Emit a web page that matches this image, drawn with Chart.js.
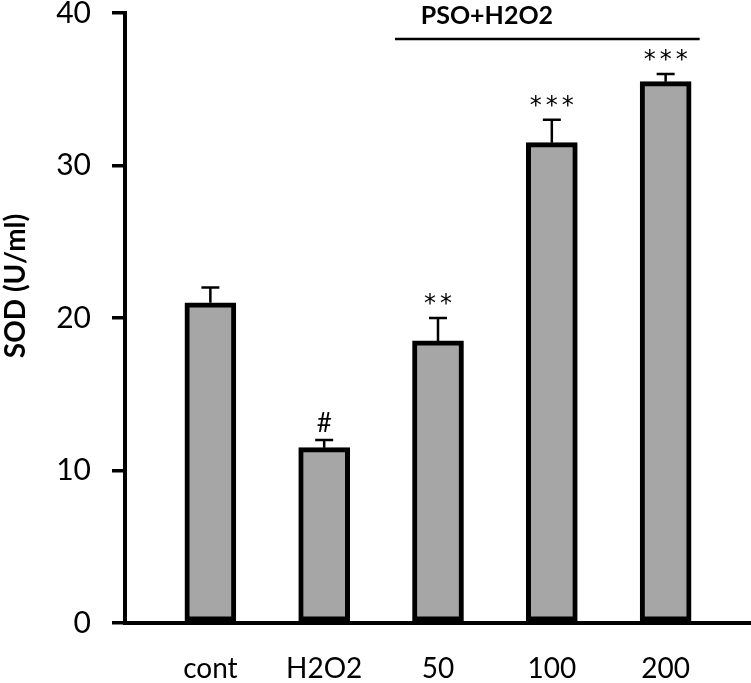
<!DOCTYPE html>
<html>
<head>
<meta charset="utf-8">
<script src="https://cdn.jsdelivr.net/npm/chart.js@4/dist/chart.umd.min.js"></script>
<style>
  html, body { margin: 0; padding: 0; background: #fff; }
  #wrap { width: 751px; height: 683px; }
</style>
</head>
<body>
<div id="wrap"><canvas id="sodChart"></canvas></div>
<script>
// values
const categories = ['cont', 'H2O2', '50', '100', '200'];
const sodValues = [21, 11.5, 18.5, 31.5, 35.5];
const sodErrors = [1, 0.5, 1.5, 1.5, 0.5];
const sigMarks = ['', '#', '**', '***', '***'];
const yTicks = [0, 10, 20, 30, 40];
const groupLabel = 'PSO+H2O2';
const yTitle = 'SOD (U/ml)';

const FONT = 'Lato, "Open Sans", sans-serif';

// error bars, significance marks, bracket and the y title
const annotate = {
    id: 'annotate',
    afterDatasetsDraw(chart) {
        const ctx = chart.ctx;
        const meta = chart.getDatasetMeta(0);
        const y = chart.scales.y;
        const x = chart.scales.x;
        ctx.save();
        ctx.strokeStyle = '#000';
        ctx.fillStyle = '#000';
        meta.data.forEach((bar, i) => {
            const top = y.getPixelForValue(sodValues[i]);
            const errTop = y.getPixelForValue(sodValues[i] + sodErrors[i]);
            ctx.lineWidth = 2.5;
            ctx.beginPath();
            ctx.moveTo(bar.x, top);
            ctx.lineTo(bar.x, errTop);
            ctx.moveTo(bar.x - 9, errTop);
            ctx.lineTo(bar.x + 9, errTop);
            ctx.stroke();
            const m = sigMarks[i];
            if (!m) return;
            ctx.textAlign = 'center';
            if (m === '#') {
                ctx.letterSpacing = '0px';
                ctx.font = '26px ' + FONT;
                ctx.textBaseline = 'middle';
                ctx.fillText(m, bar.x, errTop - 16);
            } else {
                ctx.font = '24px "DejaVu Sans", sans-serif';
                ctx.letterSpacing = '4px';
                ctx.textBaseline = 'alphabetic';
                ctx.fillText(m, bar.x + 2, errTop - 20 + 13);
            }
        });
        ctx.letterSpacing = '0px';

        // bracket over the PSO groups
        const x0 = x.getPixelForValue(2) - 43;
        const x1 = x.getPixelForValue(4) + 34;
        const yl = y.getPixelForValue(38.3);
        ctx.lineWidth = 2.5;
        ctx.beginPath();
        ctx.moveTo(x0, yl);
        ctx.lineTo(x1, yl);
        ctx.stroke();
        ctx.font = 'bold 25px ' + FONT;
        ctx.textAlign = 'center';
        ctx.textBaseline = 'middle';
        ctx.fillText(groupLabel, x.getPixelForValue(2.5) - 8, y.getPixelForValue(39.8));

        // y axis title, sits a bit above the middle in the original
        ctx.translate(16, y.getPixelForValue(22.1));
        ctx.rotate(-Math.PI / 2);
        ctx.font = 'bold 28px ' + FONT;
        ctx.fillText(yTitle, 0, 0);
        ctx.restore();
    }
};

const ctx = document.getElementById('sodChart').getContext('2d');
new Chart(ctx, {
    type: 'bar',
    data: {
        datasets: [{
            data: sodValues.map((v, i) => ({ x: i, y: v })),
            backgroundColor: '#a6a6a6',
            borderColor: '#000',
            borderWidth: 5,
            borderSkipped: false,
            barThickness: 51
        }]
    },
    options: {
        responsive: true,
        maintainAspectRatio: false,
        animation: false,
        layout: { padding: { top: 13, right: 0, left: 0, bottom: 0 } },
        plugins: {
            legend: { display: false },
            tooltip: { enabled: false }
        },
        scales: {
            x: {
                type: 'linear',
                offset: false,
                min: -0.75,
                max: 4.75,
                afterBuildTicks: axis => { axis.ticks = categories.map((c, i) => ({ value: i })); },
                afterFit: scale => {
                    scale.height = 60;
                    scale.paddingLeft = 0;
                    scale.paddingRight = 0;
                },
                grid: { display: false },
                border: { display: true, color: '#000', width: 4 },
                ticks: {
                    autoSkip: false,
                    maxRotation: 0,
                    padding: 21,
                    color: '#000',
                    font: { family: FONT, size: 28 },
                    callback: v => categories[v]
                }
            },
            y: {
                min: 0,
                max: 40,
                afterBuildTicks: axis => { axis.ticks = yTicks.map(v => ({ value: v })); },
                afterFit: scale => {
                    scale.width = 125;
                    scale.paddingTop = 0;
                    scale.paddingBottom = 0;
                },
                grid: {
                    drawOnChartArea: false,
                    drawTicks: true,
                    tickLength: 13,
                    lineWidth: 3.5,
                    color: '#000'
                },
                border: { display: true, color: '#000', width: 4 },
                ticks: {
                    padding: 21,
                    color: '#000',
                    font: { family: FONT, size: 30 }
                },
                title: { display: false }
            }
        }
    },
    plugins: [annotate]
});
</script>
</body>
</html>
